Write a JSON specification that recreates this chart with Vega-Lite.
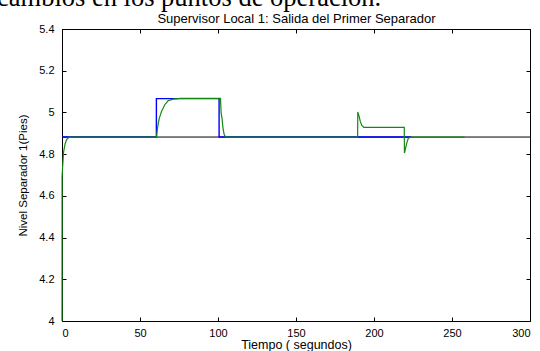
{
  "$schema": "https://vega.github.io/schema/vega-lite/v6.json",
  "width": 468,
  "height": 292,
  "autosize": {"type": "none"},
  "padding": {"left": 62, "top": 29, "right": 10, "bottom": 30},
  "background": "white",
  "title": {
    "text": "cambios en los puntos de operación.",
    "anchor": "start",
    "frame": "group",
    "font": "Liberation Serif",
    "fontSize": 26.5,
    "fontWeight": "normal",
    "color": "black",
    "dx": -65,
    "offset": 1
  },
  "config": {
    "view": {"stroke": "black", "strokeWidth": 1},
    "axis": {
      "domain": false,
      "grid": false,
      "tickColor": "black",
      "tickSize": -4,
      "labelFont": "Liberation Sans",
      "labelFontSize": 11,
      "labelColor": "black",
      "titleFont": "Liberation Sans",
      "titleFontSize": 12.5,
      "titleFontWeight": "normal",
      "titleColor": "black"
    }
  },
  "datasets": {
    "ref": [
      {"t": 0, "v": 4.882},
      {"t": 300, "v": 4.882}
    ],
    "sp": [
      {"t": 0, "v": 4.882},
      {"t": 60.5, "v": 4.882},
      {"t": 60.51, "v": 5.066},
      {"t": 100.7, "v": 5.066},
      {"t": 100.71, "v": 4.882},
      {"t": 224, "v": 4.882}
    ],
    "lvl": [
      {"t": 0, "v": 4.0},
      {"t": 0.05, "v": 4.69},
      {"t": 0.4, "v": 4.74},
      {"t": 1, "v": 4.81},
      {"t": 2, "v": 4.85},
      {"t": 3, "v": 4.87},
      {"t": 4.5, "v": 4.882},
      {"t": 60.6, "v": 4.882},
      {"t": 61.3, "v": 4.93},
      {"t": 62.3, "v": 4.97},
      {"t": 63.8, "v": 5.005},
      {"t": 65.9, "v": 5.037},
      {"t": 68, "v": 5.056},
      {"t": 71.2, "v": 5.064},
      {"t": 76, "v": 5.067},
      {"t": 101.6, "v": 5.067},
      {"t": 102, "v": 4.997},
      {"t": 102.6, "v": 4.97},
      {"t": 103.2, "v": 4.925},
      {"t": 104, "v": 4.893},
      {"t": 105, "v": 4.882},
      {"t": 189.5, "v": 4.882},
      {"t": 189.6, "v": 5.002},
      {"t": 190.5, "v": 4.98},
      {"t": 191.2, "v": 4.957},
      {"t": 192.2, "v": 4.938},
      {"t": 193.5, "v": 4.928},
      {"t": 219.4, "v": 4.928},
      {"t": 219.5, "v": 4.805},
      {"t": 221, "v": 4.853},
      {"t": 222, "v": 4.877},
      {"t": 223.7, "v": 4.882},
      {"t": 258, "v": 4.882}
    ]
  },
  "layer": [
    {
      "data": {"name": "ref"},
      "mark": {"type": "line", "color": "black", "strokeWidth": 1},
      "encoding": {
        "x": {
          "field": "t", "type": "quantitative",
          "scale": {"domain": [0, 300], "nice": false, "zero": false},
          "axis": {"orient": "bottom", "values": [0, 50, 100, 150, 200, 250, 300], "labelPadding": 10, "title": "Tiempo ( segundos)", "titlePadding": 0}
        },
        "y": {
          "field": "v", "type": "quantitative",
          "scale": {"domain": [4, 5.4], "nice": false, "zero": false},
          "axis": {"orient": "left", "values": [4, 4.2, 4.4, 4.6, 4.8, 5, 5.2, 5.4], "format": ".1~f", "labelPadding": 12, "title": "Nivel Separador 1(Pies)", "titlePadding": 10, "titleFontSize": 11.5}
        }
      }
    },
    {
      "data": {"name": "sp"},
      "mark": {"type": "line", "color": "#0000ff", "strokeWidth": 1.4},
      "encoding": {
        "x": {
          "field": "t", "type": "quantitative",
          "axis": {"orient": "top", "values": [0, 50, 100, 150, 200, 250, 300], "labels": false, "title": "Supervisor Local 1: Salida del Primer Separador", "titlePadding": 3, "titleFontSize": 13}
        },
        "y": {
          "field": "v", "type": "quantitative",
          "axis": {"orient": "right", "values": [4, 4.2, 4.4, 4.6, 4.8, 5, 5.2, 5.4], "labels": false, "title": null}
        }
      }
    },
    {
      "data": {"name": "lvl"},
      "mark": {"type": "line", "color": "#128a12", "strokeWidth": 1.2},
      "encoding": {
        "x": {"field": "t", "type": "quantitative", "axis": null},
        "y": {"field": "v", "type": "quantitative", "axis": null}
      }
    }
  ],
  "resolve": {"axis": {"x": "independent", "y": "independent"}}
}
